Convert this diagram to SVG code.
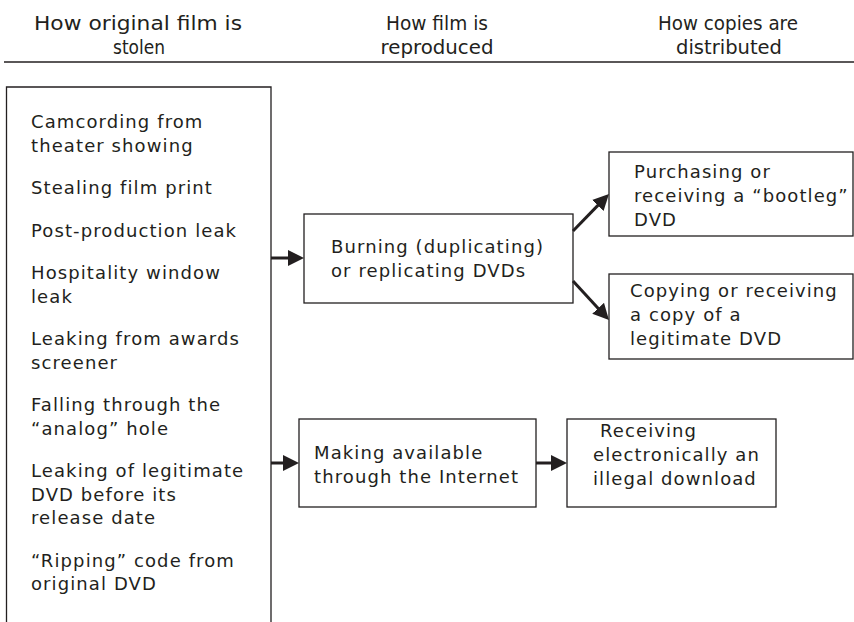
<svg xmlns="http://www.w3.org/2000/svg" width="854" height="622" viewBox="0 0 854 622">
<style>
.bg{fill:#ffffff}
.box{fill:none;stroke:#231f20;stroke-width:1.3}
.t{font-family:"DejaVu Sans","Open Sans","Liberation Sans",sans-serif;font-size:18px;letter-spacing:1.1px;fill:#231f20}
.h{font-family:"DejaVu Sans","Open Sans","Liberation Sans",sans-serif;font-size:19px;fill:#231f20;text-anchor:middle}
.rule{stroke:#231f20;stroke-width:1.6}
.arr{fill:none;stroke:#231f20;stroke-width:3;marker-end:url(#ah)}
</style>
<defs>
<marker id="ah" markerUnits="userSpaceOnUse" markerWidth="18" markerHeight="18" refX="5" refY="8" orient="auto">
<path d="M0,0 L16,8 L0,16 z" fill="#231f20"/>
</marker>
</defs>
<rect class="bg" x="0" y="0" width="854" height="622"/>
<g id="header">
<text class="h" x="138" y="30" textLength="208" lengthAdjust="spacingAndGlyphs">How original film is</text>
<text class="h" x="139" y="54" textLength="52" lengthAdjust="spacingAndGlyphs">stolen</text>
<text class="h" x="437" y="30" textLength="102" lengthAdjust="spacingAndGlyphs">How film is</text>
<text class="h" x="437" y="54" textLength="113" lengthAdjust="spacingAndGlyphs">reproduced</text>
<text class="h" x="728" y="30" textLength="140" lengthAdjust="spacingAndGlyphs">How copies are</text>
<text class="h" x="729" y="54" textLength="106" lengthAdjust="spacingAndGlyphs">distributed</text>
<line class="rule" x1="4" y1="62" x2="854" y2="62"/>
</g>
<g id="stolen">
<path class="box" d="M6.5,623 V87 H271 V623"/>
<text class="t" x="31" y="128">Camcording from</text>
<text class="t" x="31" y="151.5">theater showing</text>
<text class="t" x="31" y="194">Stealing film print</text>
<text class="t" x="31" y="236.5">Post-production leak</text>
<text class="t" x="31" y="279">Hospitality window</text>
<text class="t" x="31" y="302.5">leak</text>
<text class="t" x="31" y="345">Leaking from awards</text>
<text class="t" x="31" y="368.5">screener</text>
<text class="t" x="31" y="411">Falling through the</text>
<text class="t" x="31" y="434.5">“analog” hole</text>
<text class="t" x="31" y="477">Leaking of legitimate</text>
<text class="t" x="31" y="500.5">DVD before its</text>
<text class="t" x="31" y="524">release date</text>
<text class="t" x="31" y="566.5">“Ripping” code from</text>
<text class="t" x="31" y="590">original DVD</text>
</g>
<g id="burning">
<rect class="box" x="304" y="214" width="269" height="89"/>
<text class="t" x="331" y="253">Burning (duplicating)</text>
<text class="t" x="331" y="277">or replicating DVDs</text>
</g>
<g id="bootleg">
<rect class="box" x="609" y="152" width="244" height="84"/>
<text class="t" x="634" y="178">Purchasing or</text>
<text class="t" x="634" y="202">receiving a “bootleg”</text>
<text class="t" x="634" y="226">DVD</text>
</g>
<g id="copying">
<rect class="box" x="609" y="274" width="244" height="85"/>
<text class="t" x="630" y="297">Copying or receiving</text>
<text class="t" x="630" y="321">a copy of a</text>
<text class="t" x="630" y="345">legitimate DVD</text>
</g>
<g id="internet">
<rect class="box" x="299" y="419" width="237" height="88"/>
<text class="t" x="314" y="459">Making available</text>
<text class="t" x="314" y="483">through the Internet</text>
</g>
<g id="download">
<rect class="box" x="567" y="419" width="209" height="88"/>
<text class="t" x="600" y="437">Receiving</text>
<text class="t" x="593" y="461">electronically an</text>
<text class="t" x="593" y="485">illegal download</text>
</g>
<g id="connectors">
<line class="arr" x1="271" y1="258" x2="293" y2="258"/>
<line class="arr" x1="573" y1="231" x2="601.3" y2="201.9"/>
<line class="arr" x1="573" y1="281" x2="601.5" y2="311.9"/>
<line class="arr" x1="271" y1="463" x2="288" y2="463"/>
<line class="arr" x1="536" y1="463" x2="556" y2="463"/>
</g>
</svg>
